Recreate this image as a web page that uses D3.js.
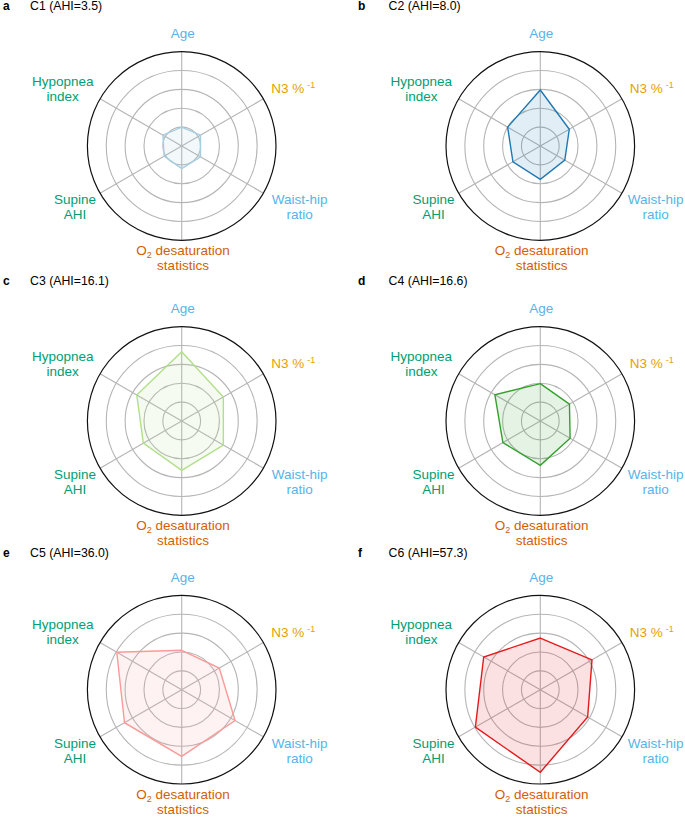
<!DOCTYPE html>
<html>
<head>
<meta charset="utf-8">
<script src="https://cdn.jsdelivr.net/npm/d3@7"></script>
<style>
  body { margin: 0; background: #fff; }
  svg { display: block; font-family: "Liberation Sans", Arial, sans-serif; }
</style>
</head>
<body>
<svg id="chart" width="685" height="817"></svg>
<script>
////////////////////////////////////////////
// DATA
////////////////////////////////////////////

const panelLetters = ["a", "b", "c", "d", "e", "f"];
const clusters = ["C1", "C2", "C3", "C4", "C5", "C6"];
const ahi = ["3.5", "8.0", "16.1", "16.6", "36.0", "57.3"];

// axis order, clockwise from 12 o'clock
const features = ["Age", "N3 %-1", "Waist-hip ratio", "O2 desaturation statistics", "Supine AHI", "Hypopnea index"];

// normalised feature values (outer ring = 1)
const c1 = [0.20, 0.23, 0.23, 0.24, 0.215, 0.23];
const c2 = [0.594, 0.355, 0.30, 0.353, 0.335, 0.40];
const c3 = [0.735, 0.51, 0.51, 0.523, 0.47, 0.55];
const c4 = [0.396, 0.357, 0.365, 0.47, 0.458, 0.556];
const c5 = [0.418, 0.46, 0.654, 0.707, 0.70, 0.795];
const c6 = [0.548, 0.633, 0.58, 0.876, 0.795, 0.693];
const clusterValues = [c1, c2, c3, c4, c5, c6];

const ringTicks = [0.2, 0.4, 0.6, 0.8];

////////////////////////////////////////////
// STYLE / LAYOUT
////////////////////////////////////////////

const clusterColors = ["#a6cee3", "#1f78b4", "#b2df8a", "#33a02c", "#fb9a99", "#e31a1c"];
const featureColors = ["#56B4E9", "#E69F00", "#56B4E9", "#D55E00", "#009E73", "#009E73"];

// label text split in lines, segments may be sub/superscript
const featureLabels = [
  [[["Age"]]],
  [[["N3 %"], ["-1", "sup"]]],
  [[["Waist-hip"]], [["ratio"]]],
  [[["O"], ["2", "sub"], [" desaturation"]], [["statistics"]]],
  [[["Supine"]], [["AHI"]]],
  [[["Hypopnea"]], [["index"]]]
];
// label centre x and first baseline, relative to panel centre
const labelPos = [[1, -107.7], [111.5, -52.7], [118, 58], [1.3, 109], [-106.7, 58], [-119, -60.5]];

const W = 685;
const R = 94.3;
const colX = [181.7, 540.3];
const rowY = [146, 421, 689.7];
const titleY = [10, 285, 557.3];
const letterX = [3, 358];
const titleX = [30, 388.6];
const labelSize = 13.5;

const svg = d3.select("#chart");
svg.append("rect").attr("width", W).attr("height", 817).attr("fill", "#fff");

const r = d3.scaleLinear().domain([0, 1]).range([0, R]);
const angle = d3.scalePoint().domain(features).range([0, 2 * Math.PI * 5 / 6]);

const radarLine = d3.lineRadial()
  .angle((d, i) => angle(features[i]))
  .radius(d => r(d))
  .curve(d3.curveLinearClosed);

////////////////////////////////////////////
// PANELS
////////////////////////////////////////////

clusters.forEach((cl, k) => {
  let col = k % 2, row = Math.floor(k / 2);
  let cx = colX[col], cy = rowY[row];

  svg.append("text")
    .attr("x", letterX[col]).attr("y", titleY[row])
    .attr("font-size", 12).attr("font-weight", "bold")
    .text(panelLetters[k]);
  svg.append("text")
    .attr("x", titleX[col]).attr("y", titleY[row])
    .attr("font-size", 12.3)
    .text(`${cl} (AHI=${ahi[k]})`);

  let g = svg.append("g").attr("transform", `translate(${cx},${cy})`);

  // grid rings
  g.selectAll("circle.ring")
    .data(ringTicks)
    .join("circle")
    .attr("class", "ring")
    .attr("r", d => r(d))
    .attr("fill", "none")
    .attr("stroke", "#b5b5b5")
    .attr("stroke-width", 1.1);

  // spokes
  g.selectAll("line.spoke")
    .data(features)
    .join("line")
    .attr("class", "spoke")
    .attr("x1", 0).attr("y1", 0)
    .attr("x2", d => d3.pointRadial(angle(d), r(1))[0])
    .attr("y2", d => d3.pointRadial(angle(d), r(1))[1])
    .attr("stroke", "#b5b5b5")
    .attr("stroke-width", 1.1);

  // outline
  g.append("circle")
    .attr("r", r(1))
    .attr("fill", "none")
    .attr("stroke", "#111")
    .attr("stroke-width", 1.2);

  // cluster polygon
  g.append("path")
    .datum(clusterValues[k])
    .attr("d", radarLine)
    .attr("fill", clusterColors[k])
    .attr("fill-opacity", 0.13)
    .attr("stroke", clusterColors[k])
    .attr("stroke-width", 1.4)
    .attr("stroke-linejoin", "miter");

  // feature labels
  featureLabels.forEach((lines, i) => {
    let lg = g.append("g");
    lines.forEach((segs, li) => {
      let t = lg.append("text")
        .attr("x", labelPos[i][0])
        .attr("y", labelPos[i][1] + li * 15)
        .attr("text-anchor", "middle")
        .attr("font-size", labelSize)
        .attr("fill", featureColors[i]);
      let shift = 0;
      segs.forEach(([txt, kind]) => {
        let ts = t.append("tspan").text(txt);
        if (kind === "sub") {
          ts.attr("font-size", 9).attr("dy", 3);
          shift = 3;
        } else if (kind === "sup") {
          ts.attr("font-size", 9).attr("dy", -5).attr("dx", 3);
        } else if (shift) {
          ts.attr("dy", -shift);
          shift = 0;
        }
      });
    });
    // keep labels inside the picture
    let bb = lg.node().getBBox();
    let right = cx + bb.x + bb.width;
    if (right > W - 1.5) lg.attr("transform", `translate(${W - 1.5 - right},0)`);
  });
});
</script>
</body>
</html>
